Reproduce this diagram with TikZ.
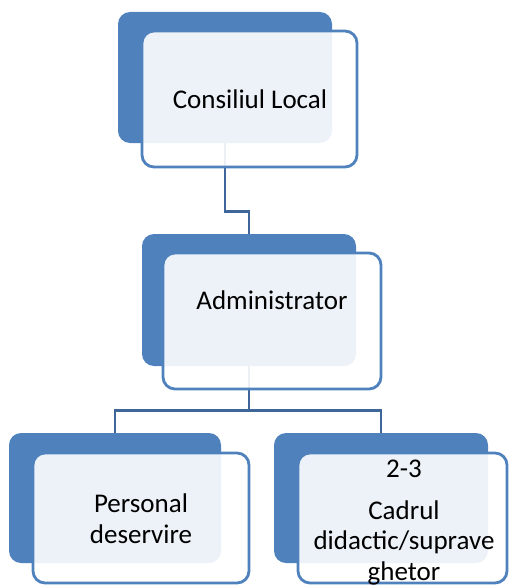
\documentclass[tikz,border=0pt]{standalone}
\usepackage{xcolor}
\usepackage{fontspec}
\setmainfont{Carlito}
\usepackage{tikz}
\usetikzlibrary{positioning}
\definecolor{boxblue}{RGB}{79,129,189}
\definecolor{linkblue}{RGB}{62,102,152}

\begin{document}
\begin{tikzpicture}[x=1pt,y=-1pt,
        back/.style={rectangle,rounded corners=12pt,fill=boxblue,draw=none,inner sep=0pt},
        front/.style={rectangle,rounded corners=12pt,fill=white,fill opacity=0.9,draw=boxblue,line width=2.8pt,inner sep=0pt},
        link/.style={draw=linkblue,line width=2.8pt},
        txt/.style={inner sep=0pt,anchor=base,align=center,font=\fontsize{27}{30.5}\selectfont}]
        \useasboundingbox (0,0) rectangle (509,586);
        \clip (0,0) rectangle (509,586);
        % back boxes
        \node[back,minimum width=214pt,minimum height=131pt] (cl-back) at (225,77.5) {};
        \node[back,minimum width=214pt,minimum height=132pt] (adm-back) at (249,300) {};
        \node[back,minimum width=212pt,minimum height=130pt] (ps-back) at (115,498) {};
        \node[back,minimum width=214pt,minimum height=130pt] (cd-back) at (381,498) {};
        % connectors
        \draw[link] (cl-back.south) -- ++(0,68) -| (adm-back.north);
        \draw[link] (adm-back.south) -- ++(0,44) -| (ps-back.north);
        \draw[link] (adm-back.south) -- ++(0,44) -| (cd-back.north);
        % front boxes
        \node[front,minimum width=215pt,minimum height=136pt] (cl-front) at (249.5,99) {};
        \node[front,minimum width=218pt,minimum height=136pt] (adm-front) at (272,321) {};
        \node[front,minimum width=216pt,minimum height=130pt] (ps-front) at (141,518) {};
        \node[front,minimum width=209pt,minimum height=130pt] (cd-front) at (402.5,518) {};
        % texts (base = last line)
        \node[txt] (cl-text) at (250,108) {Consiliul Local};
        \node[txt] (adm-text) at (272,309) {Administrator};
        \node[txt] (ps-text) at (141,543) {Personal\\deservire};
        \node[txt] (cd-text) at (404,580) {2-3\\[11pt]Cadrul\\didactic/suprave\\ghetor};
    \end{tikzpicture}
\end{document}
